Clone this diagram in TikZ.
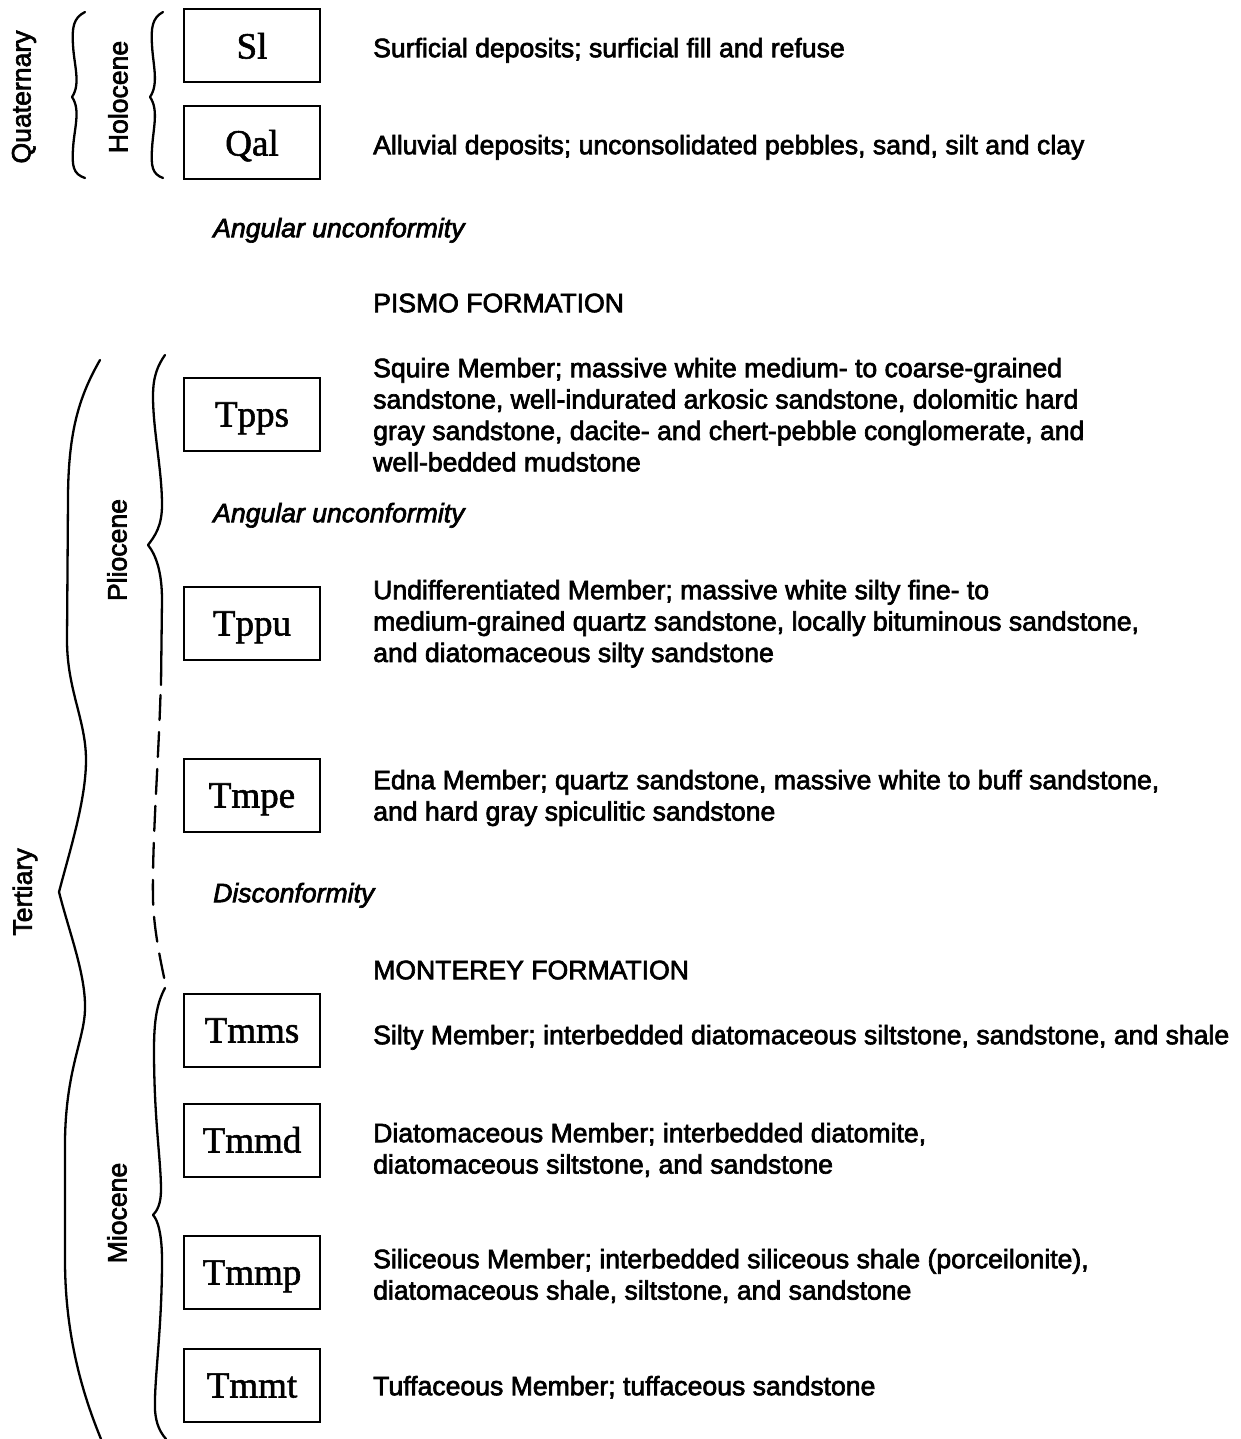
\documentclass[tikz,border=0pt]{standalone}
\usepackage{fontspec}
\setmainfont{Liberation Sans}
\newfontfamily\descfamily{Liberation Sans}[FakeBold=2.5]
\newfontfamily\boxfont{Liberation Serif}[FakeBold=1.5]
\newcommand{\dfont}{\descfamily\fontsize{26.6}{31.4}\selectfont}
\begin{document}
\begin{tikzpicture}[x=1pt,y=-1pt,
  unitbox/.style={draw, line width=2pt, minimum width=136pt, minimum height=73pt, inner sep=0pt,
    text height=25pt, text depth=0pt, font=\boxfont\fontsize{37}{40}\selectfont},
  desc/.style={anchor=north west, inner sep=0pt, align=left, font=\dfont},
  note/.style={anchor=north west, inner sep=0pt, font=\dfont\itshape},
  agelabel/.style={rotate=90, inner sep=0pt, font=\dfont},
  bracel/.style={line width=2.3pt, line cap=round, line join=round},
  dashbrace/.style={bracel, dash pattern=on 25pt off 12pt}]
\useasboundingbox (0,0) rectangle (1240,1439);
\fill[white] (0,0) rectangle (1240,1439);

% unit boxes
\node[unitbox] (sl)   at (252,46)   {Sl};
\node[unitbox] (qal)  at (252,143)  {Qal};
\node[unitbox] (tpps) at (252,414)  {Tpps};
\node[unitbox] (tppu) at (252,623)  {Tppu};
\node[unitbox] (tmpe) at (252,795)  {Tmpe};
\node[unitbox] (tmms) at (252,1030) {Tmms};
\node[unitbox] (tmmd) at (252,1140) {Tmmd};
\node[unitbox] (tmmp) at (252,1272) {Tmmp};
\node[unitbox] (tmmt) at (252,1385) {Tmmt};

% descriptions (top = baseline - 22)
\node[desc] (dsl) at (373,57-22) {\strut Surficial deposits; surficial fill and refuse};
\node[desc] (dqal) at (373,154-22) {\strut Alluvial deposits; unconsolidated pebbles, sand, silt and clay};
\node[note] (au1) at (213,237-22) {\strut Angular unconformity};
\node[desc] (pismo) at (373,312-22) {\strut PISMO FORMATION};
\node[desc] (dtpps) at (373,377-22) {\strut Squire Member; massive white medium- to coarse-grained\\
  sandstone, well-indurated arkosic sandstone, dolomitic hard\\
  gray sandstone, dacite- and chert-pebble conglomerate, and\\
  well-bedded mudstone};
\node[note] (au2) at (213,522-22) {\strut Angular unconformity};
\node[desc] (dtppu) at (373,599-22) {\strut Undifferentiated Member; massive white silty fine- to\\
  medium-grained quartz sandstone, locally bituminous sandstone,\\
  and diatomaceous silty sandstone};
\node[desc] (dtmpe) at (373,789-22) {\strut Edna Member; quartz sandstone, massive white to buff sandstone,\\
  and hard gray spiculitic sandstone};
\node[note] (disc) at (213,902-22) {\strut Disconformity};
\node[desc] (mont) at (373,979-22) {\strut MONTEREY FORMATION};
\node[desc] (dtmms) at (373,1044-22) {\strut Silty Member; interbedded diatomaceous siltstone, sandstone, and shale};
\node[desc] (dtmmd) at (373,1142-22) {\strut Diatomaceous Member; interbedded diatomite,\\
  diatomaceous siltstone, and sandstone};
\node[desc] (dtmmp) at (373,1268-22) {\strut Siliceous Member; interbedded siliceous shale (porceilonite),\\
  diatomaceous shale, siltstone, and sandstone};
\node[desc] (dtmmt) at (373,1395-22) {\strut Tuffaceous Member; tuffaceous sandstone};

% age labels
\node[agelabel] (quat) at (24,97) {Quaternary};
\node[agelabel] (holo) at (118,97) {Holocene};
\node[agelabel] (plio) at (117,550) {Pliocene};
\node[agelabel] (tert) at (25,892) {Tertiary};
\node[agelabel] (mioc) at (117,1213) {Miocene};

% braces
\draw[bracel] (85,12) .. controls (73,18) and (72,28) .. (73,45)
  .. controls (74,65) and (81,84) .. (72,97)
  .. controls (81,110) and (74,129) .. (73,149)
  .. controls (72,166) and (73,174) .. (85,178);
\draw[bracel] (163,12) .. controls (152,18) and (151,28) .. (152,45)
  .. controls (153,65) and (159,84) .. (150,97)
  .. controls (159,110) and (153,129) .. (152,149)
  .. controls (151,166) and (152,174) .. (163,178);
% Tertiary
\draw[bracel] (100,360) .. controls (80,395) and (68,430) .. (68,500)
  -- (67,640) .. controls (67,690) and (86,720) .. (86,760)
  .. controls (86,800) and (70,850) .. (59,892)
  .. controls (70,935) and (86,975) .. (85,1010)
  .. controls (84,1040) and (66,1070) .. (65,1140)
  -- (65,1260) .. controls (65,1340) and (85,1400) .. (101,1439);
% Pliocene (solid upper part)
\draw[bracel] (165,355) .. controls (158,365) and (153,376) .. (153,396)
  .. controls (153,430) and (162,470) .. (162,505)
  .. controls (162,526) and (155,536) .. (148,545)
  .. controls (156,555) and (162,572) .. (162,600) -- (161,685);
% Pliocene (dashed lower part)
\draw[dashbrace] (160.5,695) .. controls (158,770) and (152,845) .. (153,900)
  .. controls (154,930) and (160,958) .. (165,982);
% Miocene
\draw[bracel] (165,988) .. controls (157,1003) and (154,1020) .. (154,1050)
  .. controls (154,1120) and (161,1160) .. (161,1190)
  .. controls (161,1204) and (157,1211) .. (153,1215)
  .. controls (158,1220) and (162,1235) .. (162,1260)
  .. controls (162,1330) and (154,1380) .. (155,1410)
  .. controls (156,1424) and (160,1432) .. (166,1439);
\end{tikzpicture}
\end{document}
